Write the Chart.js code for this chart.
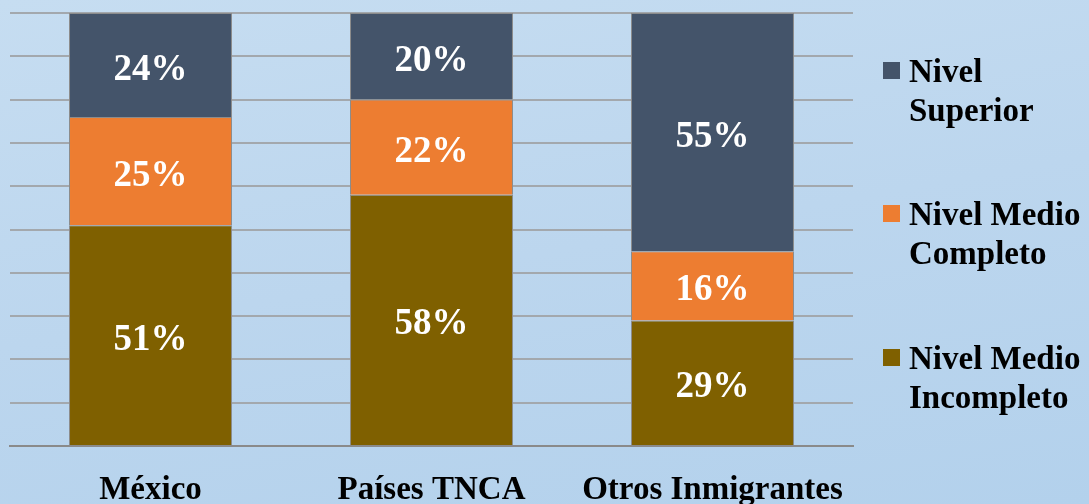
<!DOCTYPE html>
<html>
<head>
<meta charset="utf-8">
<script src="https://cdn.jsdelivr.net/npm/chart.js@4/dist/chart.umd.min.js"></script>
<style>
html,body{margin:0;padding:0;}
body{width:1089px;height:504px;overflow:hidden;background:linear-gradient(170deg,#c6ddf1 0%,#bcd6ee 50%,#b3d1ec 100%);position:relative;}
#wrap{position:absolute;left:0;top:0;width:1089px;height:504px;}
#legend{position:absolute;left:883px;top:0;font-family:"Liberation Serif",serif;font-weight:bold;font-size:33px;line-height:39px;color:#000;}
.item{position:absolute;left:0;width:210px;}
.sw{position:absolute;left:0;width:17px;height:17px;}
.txt{position:absolute;left:26px;white-space:nowrap;}
</style>
</head>
<body>
<div id="wrap"><canvas id="c" width="1089" height="504"></canvas></div>
<div id="legend"></div>
<script>
const categories = ["México", "Países TNCA", "Otros Inmigrantes"];
const seriesNames = [["Nivel", "Superior"], ["Nivel Medio", "Completo"], ["Nivel Medio", "Incompleto"]];
const medioIncompleto = [51, 58, 29];
const medioCompleto = [25, 22, 16];
const superior = [24, 20, 55];
const colors = ["#44546a", "#ed7d31", "#7f6000"];

const labelPlugin = {
  id: 'valueLabels',
  afterDatasetsDraw(chart) {
    const ctx = chart.ctx;
    ctx.save();
    ctx.fillStyle = '#ffffff';
    ctx.font = 'bold 37px "Liberation Serif"';
    ctx.textAlign = 'center';
    ctx.textBaseline = 'middle';
    chart.data.datasets.forEach((ds, i) => {
      const meta = chart.getDatasetMeta(i);
      meta.data.forEach((bar, j) => {
        const p = bar.getProps(['x','y','base'], true);
        ctx.fillText(ds.data[j] + '%', p.x, (p.y + p.base) / 2 + 5);
      });
    });
    ctx.restore();
  }
};

new Chart(document.getElementById('c'), {
  type: 'bar',
  data: {
    labels: categories,
    datasets: [
      { label: seriesNames[2].join(' '), data: medioIncompleto, backgroundColor: colors[2] },
      { label: seriesNames[1].join(' '), data: medioCompleto, backgroundColor: colors[1] },
      { label: seriesNames[0].join(' '), data: superior, backgroundColor: colors[0] }
    ].map(d => Object.assign(d, { borderColor: '#8c8c8c', borderWidth: 1, categoryPercentage: 0.58, barPercentage: 1 }))
  },
  options: {
    responsive: false,
    animation: false,
    devicePixelRatio: 1,
    layout: { padding: { left: 10, right: 236, top: 13, bottom: 0 } },
    plugins: { legend: { display: false }, tooltip: { enabled: false } },
    scales: {
      x: {
        stacked: true,
        grid: { display: false, drawTicks: false },
        border: { color: '#8a8a8a', width: 2 },
        ticks: { color: '#000', font: { family: 'Liberation Serif', weight: 'bold', size: 33 }, padding: 25 },
        afterFit(scale) { scale.height = 58; }
      },
      y: {
        stacked: true, min: 0, max: 100,
        ticks: { display: false, stepSize: 10 },
        grid: { color: '#a3a8ad', lineWidth: 2, drawTicks: false },
        border: { display: false }
      }
    }
  },
  plugins: [labelPlugin]
});

const legend = document.getElementById('legend');
const tops = [58, 201, 345];
seriesNames.forEach((n, i) => {
  const it = document.createElement('div');
  it.className = 'item';
  it.style.top = tops[i] + 'px';
  it.innerHTML = '<div class="sw" style="top:4px;background:' + colors[i] + '"></div><div class="txt" style="top:-6px">' + n[0] + '<br>' + n[1] + '</div>';
  legend.appendChild(it);
});
</script>
</body>
</html>
